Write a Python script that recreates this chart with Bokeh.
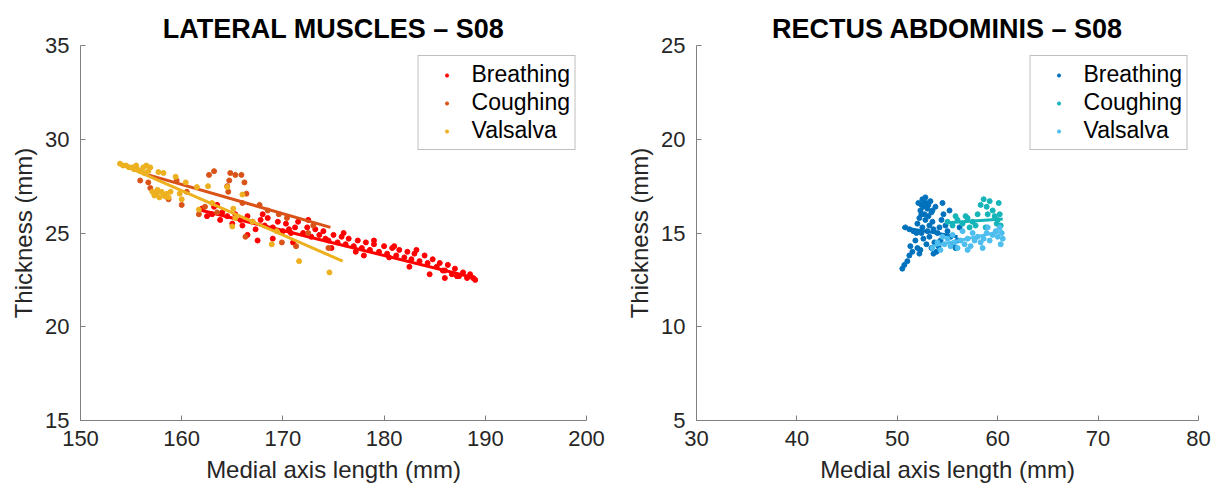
from bokeh.plotting import figure
from bokeh.layouts import row
from bokeh.models import Range1d, FixedTicker
from bokeh.embed import file_html
from bokeh.resources import INLINE

# ---------------- Lateral muscles (S08) ----------------
lat_breath_x = [162.0, 162.5, 163.0, 163.2, 163.8, 164.0, 164.5, 165.0, 165.3, 165.8, 166.0, 166.5, 167.0, 167.3,
                167.8, 168.2, 168.5, 169.0, 169.5, 170.0, 170.3, 170.8, 171.2, 171.5, 172.0, 172.4, 172.8, 173.2,
                173.6, 174.0, 174.5, 175.0, 175.4, 175.8, 176.2, 176.5, 177.0, 177.4, 177.8, 178.2, 178.6, 179.0,
                179.5, 180.0, 180.3, 180.8, 181.2, 181.5, 182.0, 182.3, 182.7, 183.0, 183.5, 184.0, 184.3, 184.8,
                185.2, 185.5, 186.0, 186.3, 186.7, 187.0, 187.4, 187.8, 188.2, 188.5, 188.8, 189.0, 186.0, 184.5,
                182.5, 181.0, 179.0, 176.0, 174.8, 171.0, 169.0, 167.5, 166.5, 163.5, 168.0, 172.5, 178.0, 183.2,
                185.8, 187.2, 180.5, 177.2, 174.2, 170.6]
lat_breath_y = [26.3, 25.9, 26.0, 26.4, 25.7, 26.1, 25.9, 25.5, 26.0, 25.7, 25.4, 25.9, 25.6, 25.2,
                25.7, 25.4, 25.8, 25.3, 25.6, 25.1, 25.5, 25.0, 25.3, 25.6, 25.0, 25.3, 24.8, 25.2,
                24.9, 25.1, 24.6, 24.9, 24.5, 24.8, 24.4, 24.7, 24.3, 24.6, 24.2, 24.5, 24.1, 24.4,
                24.0, 24.3, 23.9, 24.2, 23.8, 24.1, 23.7, 24.0, 23.6, 23.9, 23.5, 23.8, 23.4, 23.6,
                23.2, 23.4, 23.0, 23.3, 22.8, 23.1, 22.7, 22.9, 22.6, 22.8, 22.6, 22.5, 22.6, 22.8,
                23.2, 24.3, 24.6, 25.0, 24.2, 24.5, 24.7, 24.6, 24.9, 26.5, 26.0, 25.7, 23.8, 24.1,
                23.0, 22.7, 23.7, 24.0, 24.7, 25.2]
lat_breath_fit_x = [162.0, 189.0]
lat_breath_fit_y = [26.2, 22.6]

lat_cough_x = [155.9, 156.7, 156.9, 157.5, 158.7, 159.5, 160.5, 161.7, 162.3, 162.7, 163.2, 164.5, 164.6, 164.7,
               164.8, 165.3, 165.9, 166.2, 166.4, 166.0, 167.7, 168.5, 169.6, 170.4, 166.3, 169.9, 171.3, 172.5,
               174.5, 173.0, 163.5, 160.0]
lat_cough_y = [27.8, 27.7, 27.4, 27.1, 26.8, 27.8, 27.2, 26.0, 26.4, 28.1, 28.3, 27.5, 27.2, 27.8,
               28.2, 28.1, 28.1, 27.7, 27.1, 26.6, 26.5, 26.2, 26.0, 25.8, 24.8, 24.5, 24.3, 25.0,
               24.2, 25.4, 26.1, 26.5]
lat_cough_fit_x = [156.7, 174.7]
lat_cough_fit_y = [28.1, 25.3]

lat_valsalva_x = [153.9, 154.2, 154.5, 154.8, 155.1, 155.3, 155.6, 155.9, 156.2, 156.5, 156.7, 156.3, 155.5, 156.9,
                  157.1, 157.3, 157.5, 157.8, 158.0, 158.2, 158.5, 158.7, 158.9, 157.6, 158.4, 157.7, 158.2, 159.4,
                  160.4, 161.5, 162.6, 160.0, 161.7, 164.5, 166.0, 165.1, 165.0, 165.3, 168.9, 169.4, 171.6, 174.6,
                  159.8, 163.0, 167.0]
lat_valsalva_y = [28.7, 28.6, 28.6, 28.5, 28.5, 28.4, 28.4, 28.3, 28.5, 28.6, 28.3, 28.2, 28.6, 28.5,
                  27.2, 27.0, 27.1, 26.9, 27.2, 27.0, 27.1, 26.9, 27.2, 27.3, 26.95, 28.25, 28.2, 28.0,
                  27.7, 27.45, 27.5, 26.8, 26.25, 27.45, 27.05, 26.3, 25.35, 25.8, 24.4, 25.1, 23.5, 22.9,
                  27.1, 26.6, 25.6]
lat_valsalva_fit_x = [153.9, 175.9]
lat_valsalva_fit_y = [28.7, 23.5]

lat_xticks = [150, 160, 170, 180, 190, 200]
lat_yticks = [15, 20, 25, 30, 35]

# ---------------- Rectus abdominis (S08) ----------------
ra_breath_x = [50.5, 50.7, 51.0, 51.2, 51.5, 51.3, 50.8, 51.2, 51.6, 51.8, 52.0, 52.2, 52.0, 52.2, 52.3, 52.4,
               52.5, 52.6, 52.7, 52.8, 52.9, 53.0, 53.1, 53.2, 53.3, 53.4, 53.5, 53.6, 52.4, 52.6, 52.9, 53.2,
               53.4, 53.7, 53.9, 54.1, 54.3, 54.0, 54.2, 54.4, 54.6, 54.8, 55.0, 55.3, 55.5, 55.8, 56.0, 53.8,
               54.5, 52.1, 52.8, 53.0, 52.5, 51.9, 53.6, 52.3, 55.2, 56.2, 52.7, 53.1, 52.4, 53.5]
ra_breath_y = [13.1, 13.3, 13.5, 13.8, 14.0, 14.3, 15.3, 15.2, 15.1, 14.6, 14.2, 13.9, 15.5, 15.8, 16.2, 16.5,
               16.8, 16.4, 16.0, 15.7, 16.6, 16.3, 15.9, 15.4, 16.7, 16.1, 15.6, 15.2, 15.0, 14.7, 14.4, 14.8,
               14.2, 14.5, 14.0, 14.3, 14.6, 15.0, 15.3, 15.7, 16.0, 15.4, 15.1, 14.8, 14.4, 14.2, 14.6, 16.4,
               16.6, 16.6, 16.9, 15.1, 15.3, 15.0, 13.9, 14.1, 16.2, 15.3, 16.6, 16.5, 16.0, 16.2]
ra_breath_fit_x = [50.5, 56.0]
ra_breath_fit_y = [15.3, 14.8]

ra_cough_x = [55.0, 55.5, 56.0, 56.5, 57.0, 57.5, 58.0, 58.3, 58.6, 58.9, 59.2, 59.5, 59.7, 59.9, 60.0, 60.2,
              60.3, 58.8, 57.8, 56.8, 59.0, 60.1, 55.8, 57.2]
ra_cough_y = [15.6, 15.4, 15.7, 15.5, 15.8, 15.6, 16.0, 16.5, 16.8, 16.4, 16.7, 16.2, 15.9, 15.5, 15.7, 16.0,
              15.4, 15.3, 15.4, 15.9, 16.0, 16.6, 15.9, 15.3]
ra_cough_fit_x = [55.0, 60.5]
ra_cough_fit_y = [15.55, 15.75]

ra_valsalva_x = [53.5, 54.0, 54.3, 54.7, 55.0, 55.3, 55.7, 56.0, 56.3, 56.7, 57.0, 57.3, 57.7, 58.0, 58.3, 58.6,
                 58.9, 59.2, 59.5, 59.8, 60.0, 60.2, 60.4, 60.5, 59.0, 57.5, 56.5, 55.5, 54.5, 60.3, 58.5, 57.0]
ra_valsalva_y = [14.2, 14.5, 14.1, 14.4, 14.7, 14.3, 14.5, 14.2, 14.6, 14.4, 14.7, 14.3, 14.6, 14.8, 14.5, 14.7,
                 15.0, 14.6, 14.9, 15.1, 14.8, 15.3, 15.0, 14.7, 15.3, 15.0, 15.1, 14.9, 14.8, 14.4, 14.2, 14.1]
ra_valsalva_fit_x = [53.5, 60.5]
ra_valsalva_fit_y = [14.3, 15.1]

ra_xticks = [30, 40, 50, 60, 70, 80]
ra_yticks = [5, 10, 15, 20, 25]

labels = ["Breathing", "Coughing", "Valsalva"]
lat_colors = ["#FF0000", "#D95319", "#EDB120"]
ra_colors = ["#0072BD", "#14B4B8", "#4DBEEE"]

FONT = "Liberation Sans"


def make_panel(title, xr, yr, xticks, yticks, series, colors, width, min_left, min_right):
    p = figure(width=width, height=490, output_backend="svg", toolbar_location=None,
               x_range=Range1d(*xr), y_range=Range1d(*yr),
               min_border_left=min_left, min_border_right=min_right,
               min_border_top=45, min_border_bottom=70, title=title)
    p.title.align = "center"
    p.title.text_font = FONT
    p.title.text_font_size = "27px"
    p.title.text_font_style = "bold"
    p.title.text_color = "#000000"
    p.title.standoff = 4
    p.outline_line_color = None
    p.grid.visible = False
    for ax in (p.xaxis[0], p.yaxis[0]):
        ax.axis_line_color = "#808080"
        ax.major_tick_line_color = "#808080"
        ax.major_tick_in = 5
        ax.major_tick_out = 0
        ax.minor_tick_line_color = None
        ax.major_label_text_font = FONT
        ax.major_label_text_font_size = "22px"
        ax.major_label_text_color = "#262626"
        ax.axis_label_text_font = FONT
        ax.axis_label_text_font_size = "24px"
        ax.axis_label_text_font_style = "normal"
        ax.axis_label_text_color = "#262626"
    p.xaxis.ticker = FixedTicker(ticks=xticks)
    p.yaxis.ticker = FixedTicker(ticks=yticks)
    p.xaxis.axis_label = "Medial axis length (mm)"
    p.yaxis.axis_label = "Thickness (mm)"
    p.xaxis.major_label_standoff = 10
    p.yaxis.major_label_standoff = 11
    p.xaxis.axis_label_standoff = 7
    p.yaxis.axis_label_standoff = 5

    for (sx, sy, fx, fy), lab, col in zip(series, labels, colors):
        p.scatter(sx, sy, size=5, color=col, legend_label=lab)
        p.line(fx, fy, line_width=3, color=col)

    lg = p.legend[0]
    lg.location = "top_right"
    lg.margin = 10
    lg.border_line_color = "#808080"
    lg.border_line_width = 1
    lg.background_fill_alpha = 1.0
    lg.label_text_font = FONT
    lg.label_text_font_size = "23px"
    lg.label_text_color = "#000000"
    lg.glyph_width = 46
    lg.glyph_height = 8
    lg.label_height = 24
    lg.spacing = 1
    lg.padding = 5
    lg.label_standoff = 2
    return p


lat_series = [
    (lat_breath_x, lat_breath_y, lat_breath_fit_x, lat_breath_fit_y),
    (lat_cough_x, lat_cough_y, lat_cough_fit_x, lat_cough_fit_y),
    (lat_valsalva_x, lat_valsalva_y, lat_valsalva_fit_x, lat_valsalva_fit_y),
]
ra_series = [
    (ra_breath_x, ra_breath_y, ra_breath_fit_x, ra_breath_fit_y),
    (ra_cough_x, ra_cough_y, ra_cough_fit_x, ra_cough_fit_y),
    (ra_valsalva_x, ra_valsalva_y, ra_valsalva_fit_x, ra_valsalva_fit_y),
]

p1 = make_panel("LATERAL MUSCLES \u2013 S08", (150, 200), (15, 35), lat_xticks, lat_yticks,
                lat_series, lat_colors, 612, 80, 26)
p2 = make_panel("RECTUS ABDOMINIS \u2013 S08", (30, 80), (5, 25), ra_xticks, ra_yticks,
                ra_series, ra_colors, 608, 84, 22)

layout = row(p1, p2, spacing=0)
open("out.html", "w").write(file_html(layout, INLINE))
